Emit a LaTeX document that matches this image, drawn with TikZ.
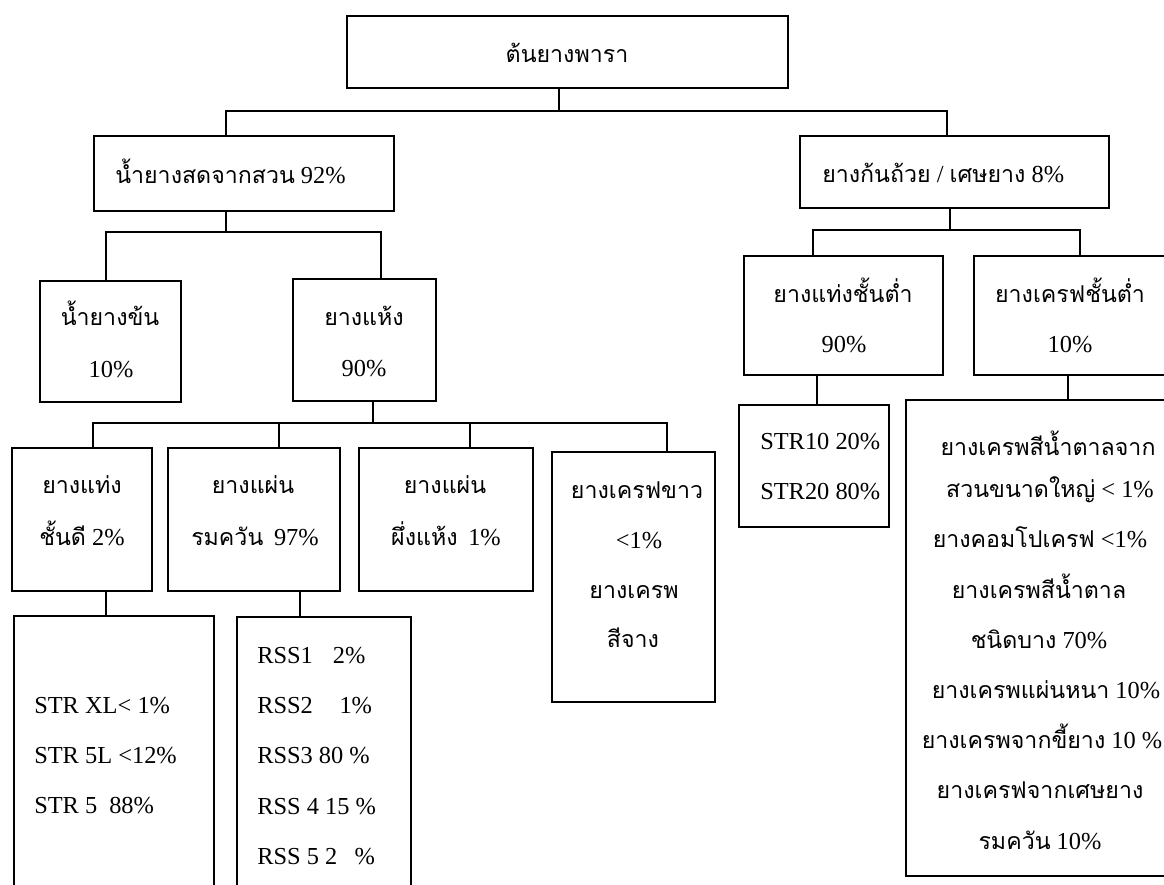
\documentclass[tikz,border=0pt]{standalone}
\usepackage{fontspec}
\setmainfont{Liberation Serif}
\newfontfamily\thaifont[Script=Thai,Scale=0.95]{Loma}
\newcommand\tha[1]{{\thaifont #1}}
\usetikzlibrary{fit}
\tikzset{
  tbox/.style={draw, line width=1.1pt, inner sep=0pt, fit={#1}},
  conn/.style={line width=0.9pt},
  lbl/.style={anchor=base, inner sep=0pt, font=\fontsize{18.3pt}{21pt}\selectfont},
  lblw/.style={lbl, anchor=base west},
}
\begin{document}
\begin{tikzpicture}[x=0.75pt,y=-0.75pt]
\useasboundingbox (0,0) rectangle (1164,885);
\clip (0,0) rectangle (1164,885);

% boxes
\node[tbox={(347,16) (788,88)}] (root) {};
\node[tbox={(94,136) (394,211)}] (fresh) {};
\node[tbox={(800,136) (1109,208)}] (waste) {};
\node[tbox={(40,281) (181,402)}] (conc) {};
\node[tbox={(293,279) (436,401)}] (dry) {};
\node[tbox={(744,256) (943,375)}] (lowblock) {};
\node[tbox={(974,256) (1180,375)}] (lowcrepe) {};
\node[tbox={(12,448) (152,591)}] (goodblock) {};
\node[tbox={(168,448) (340,591)}] (smoked) {};
\node[tbox={(359,448) (533,591)}] (airdry) {};
\node[tbox={(552,452) (715,702)}] (whitecrepe) {};
\node[tbox={(739,405) (889,527)}] (strten) {};
\node[tbox={(906,400) (1180,876)}] (brown) {};
\node[tbox={(14,616) (214,900)}] (strxl) {};
\node[tbox={(237,617) (411,900)}] (rss) {};

% texts
\node[lbl] (root-t) at (567,62) {\tha{ต้นยางพารา}};
\node[lblw] (fresh-t) at (115,183) {\tha{น้ำยางสดจากสวน} 92\%};
\node[lblw] (waste-t) at (822,182) {\tha{ยางก้นถ้วย} / \tha{เศษยาง} 8\%};
\node[lbl] (conc-t1) at (110,325) {\tha{น้ำยางข้น}};
\node[lbl] (conc-t2) at (111,377) {10\%};
\node[lbl] (dry-t1) at (364,325) {\tha{ยางแห้ง}};
\node[lbl] (dry-t2) at (364,376) {90\%};
\node[lbl] (lowblock-t1) at (843,302) {\tha{ยางแท่งชั้นต่ำ}};
\node[lbl] (lowblock-t2) at (844,352) {90\%};
\node[lbl] (lowcrepe-t1) at (1070,302) {\tha{ยางเครฟชั้นต่ำ}};
\node[lbl] (lowcrepe-t2) at (1070,352) {10\%};
\node[lbl] (goodblock-t1) at (82,493) {\tha{ยางแท่ง}};
\node[lbl] (goodblock-t2) at (82,545) {\tha{ชั้นดี} 2\%};
\node[lbl] (smoked-t1) at (253,493) {\tha{ยางแผ่น}};
\node[lbl] (smoked-t2) at (255,545) {\tha{รมควัน}\hspace{8pt}97\%};
\node[lbl] (airdry-t1) at (445,493) {\tha{ยางแผ่น}};
\node[lbl] (airdry-t2) at (446,545) {\tha{ผึ่งแห้ง}\hspace{8pt}1\%};
\node[lbl] (whitecrepe-t1) at (637,498) {\tha{ยางเครฟขาว}};
\node[lbl] (whitecrepe-t2) at (639,548) {<1\%};
\node[lbl] (whitecrepe-t3) at (634,598) {\tha{ยางเครพ}};
\node[lbl] (whitecrepe-t4) at (633,647) {\tha{สีจาง}};
\node[lblw] (strten-t1) at (760,449) {STR10 20\%};
\node[lblw] (strten-t2) at (760,499) {STR20 80\%};
\node[lbl] (brown-t1) at (1048,455) {\tha{ยางเครพสีน้ำตาลจาก}};
\node[lbl] (brown-t2) at (1050,497) {\tha{สวนขนาดใหญ่} < 1\%};
\node[lbl] (brown-t3) at (1040,547) {\tha{ยางคอมโปเครฟ} <1\%};
\node[lbl] (brown-t4) at (1039,598) {\tha{ยางเครพสีน้ำตาล}};
\node[lbl] (brown-t5) at (1039,648) {\tha{ชนิดบาง} 70\%};
\node[lbl] (brown-t6) at (1046,698) {\tha{ยางเครพแผ่นหนา} 10\%};
\node[lbl] (brown-t7) at (1042,748) {\tha{ยางเครพจากขี้ยาง} 10 \%};
\node[lbl] (brown-t8) at (1040,798) {\tha{ยางเครฟจากเศษยาง}};
\node[lbl] (brown-t9) at (1040,849) {\tha{รมควัน} 10\%};
\node[lblw] (strxl-t1) at (34,713) {STR XL< 1\%};
\node[lblw] (strxl-t2) at (34,763) {STR 5L <12\%};
\node[lblw] (strxl-t3) at (34,813) {STR 5\hspace{9pt}88\%};
\node[lblw] (rss-t1) at (257,663) {RSS1\hspace{15pt}2\%};
\node[lblw] (rss-t2) at (257,713) {RSS2\hspace{20pt}1\%};
\node[lblw] (rss-t3) at (257,763) {RSS3 80 \%};
\node[lblw] (rss-t4) at (257,814) {RSS 4 15 \%};
\node[lblw] (rss-t5) at (257,864) {RSS 5 2\hspace{13pt}\%};

% connector joints and drop lines
\coordinate (k0) at (559,111);
\coordinate (k1) at (226,232);
\coordinate (k2) at (373,423);
\coordinate (k3) at (950,230);
\coordinate (xa) at (226,0);
\coordinate (xb) at (947,0);
\coordinate (xc) at (106,0);
\coordinate (xd) at (381,0);
\coordinate (xe) at (93,0);
\coordinate (xf) at (279,0);
\coordinate (xg) at (470,0);
\coordinate (xh) at (667,0);
\coordinate (xi) at (813,0);
\coordinate (xj) at (1080,0);
\coordinate (xk) at (817,0);
\coordinate (xl) at (1068,0);
\coordinate (xm) at (300,0);

\draw[conn] (root.south -| k0) -- (k0);
\draw[conn] (fresh.north -| xa) |- (k0);
\draw[conn] (waste.north -| xb) |- (k0);

\draw[conn] (fresh.south -| k1) -- (k1);
\draw[conn] (conc.north -| xc) |- (k1);
\draw[conn] (dry.north -| xd) |- (k1);

\draw[conn] (dry.south -| k2) -- (k2);
\draw[conn] (goodblock.north -| xe) |- (k2);
\draw[conn] (smoked.north -| xf) |- (k2);
\draw[conn] (airdry.north -| xg) |- (k2);
\draw[conn] (whitecrepe.north -| xh) |- (k2);

\draw[conn] (waste.south -| k3) -- (k3);
\draw[conn] (lowblock.north -| xi) |- (k3);
\draw[conn] (lowcrepe.north -| xj) |- (k3);

\draw[conn] (lowblock.south -| xk) -- (strten.north -| xk);
\draw[conn] (lowcrepe.south -| xl) -- (brown.north -| xl);
\draw[conn] (goodblock.south -| xc) -- (strxl.north -| xc);
\draw[conn] (smoked.south -| xm) -- (rss.north -| xm);
\end{tikzpicture}
\end{document}
